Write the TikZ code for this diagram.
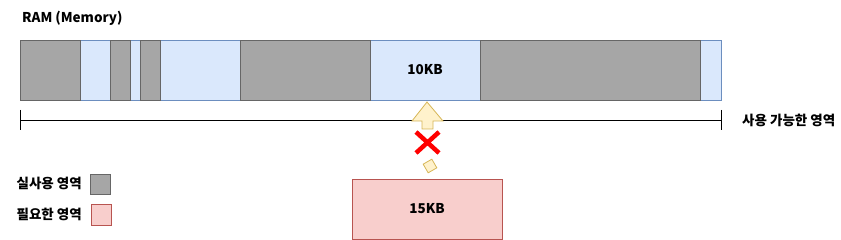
\documentclass[tikz,border=0pt]{standalone}
\usepackage{fontspec}
\setmainfont{Noto Sans CJK KR}
\begin{document}
\begin{tikzpicture}[x=1pt,y=-1pt,
  lbl/.style={font=\bfseries\fontsize{13.5}{15}\selectfont,inner sep=0pt}]
\definecolor{usedfill}{HTML}{A6A6A6}
\definecolor{usedline}{HTML}{666666}
\definecolor{freefill}{HTML}{DAE8FC}
\definecolor{freeline}{HTML}{6C8EBF}
\definecolor{needfill}{HTML}{F8CECC}
\definecolor{needline}{HTML}{B85450}
\definecolor{yfill}{HTML}{FFF2CC}
\definecolor{yline}{HTML}{D6B656}
\tikzset{used/.style={draw=usedline,fill=usedfill,line width=0.8pt},
  free/.style={draw=freeline,fill=freefill,line width=0.8pt},
  need/.style={draw=needline,fill=needfill,line width=0.8pt},
  yel/.style={draw=yline,fill=yfill,line width=0.8pt}}
\useasboundingbox (0,0) rectangle (841,240);
\node[lbl,anchor=west] (ram) at (22,18) {RAM (Memory)};
% bar segments
\draw[free] (80,40) rectangle (110,100);
\draw[free] (130,40) rectangle (140,100);
\draw[free] (160,40) rectangle (240,100);
\draw[free] (370,40) rectangle (480,100);
\draw[free] (700,40) rectangle (721,100);
\draw[used] (20,40) rectangle (80,100);
\draw[used] (110,40) rectangle (130,100);
\draw[used] (140,40) rectangle (160,100);
\draw[used] (240,40) rectangle (370,100);
\draw[used] (480,40) rectangle (700,100);
\node[lbl] (k10) at (425,70) {10KB};
% scale
\coordinate (sl) at (20,120);
\coordinate (sr) at (721,120);
\draw[line width=0.8pt] (sl) -- (sr);
\draw[line width=0.8pt] (20,110) -- (20,130);
\draw[line width=0.8pt] (721,110) -- (721,130);
\node[lbl,anchor=west] (avail) at (742,120) {사용 가능한 영역};
% arrow
\draw[yel] (427,102) -- (443,121) -- (433,121) -- (433,129) -- (422,129) -- (422,121) -- (412,121) -- cycle;
\draw[red,line width=4.5pt] (416,132) -- (439,153);
\draw[red,line width=4.5pt] (439,132) -- (416,153);
\node[yel,rotate=30,minimum size=10pt,inner sep=0pt] (dia) at (430,166) {};
% needed
\node[need,minimum width=150pt,minimum height=60pt,inner sep=0pt,font=\bfseries\fontsize{13.5}{15}\selectfont] (k15) at (427,209) {15KB};
% legend
\node[lbl,anchor=east] (l1) at (82,183) {실사용 영역};
\draw[used] (90,174) rectangle (110,194);
\node[lbl,anchor=east] (l2) at (82,214) {필요한 영역};
\draw[need] (91,204) rectangle (111,225);
\end{tikzpicture}
\end{document}
